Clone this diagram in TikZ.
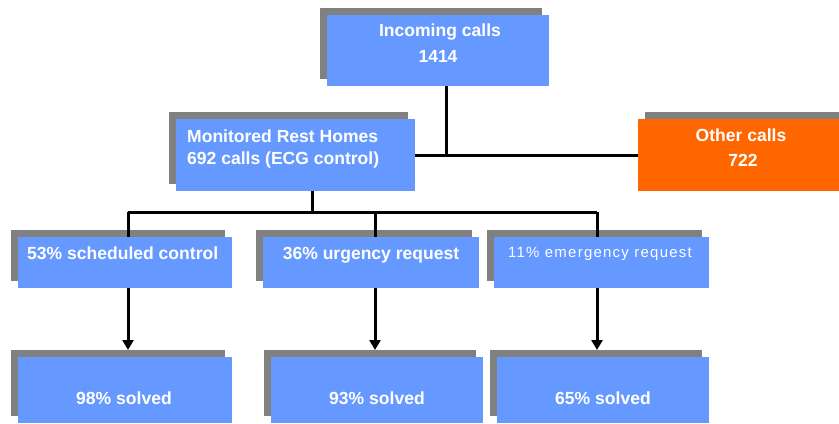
\documentclass[tikz,border=0pt]{standalone}
\usepackage{fontspec}
\setmainfont{Liberation Sans}
\usetikzlibrary{arrows.meta}

\definecolor{boxblue}{HTML}{6699FF}
\definecolor{shadowgray}{HTML}{808080}
\definecolor{callorange}{HTML}{FF6600}

% \panel{name}{x1}{y1}{x2}{y2}{fill}: a filled box with a grey drop shadow up-left
\newcommand\panel[6]{%
  \node[shadowbox, minimum width={(#4-#2)*1bp}, minimum height={(#5-#3)*1bp}]
    (#1S) at ({(#2+#4)/2-7},{(#3+#5)/2-7}) {};
  \node[panelbox, fill=#6, minimum width={(#4-#2)*1bp}, minimum height={(#5-#3)*1bp}]
    (#1) at ({(#2+#4)/2},{(#3+#5)/2}) {};
}

\tikzset{
  panelbox/.style={rectangle, draw=none, inner sep=0pt, outer sep=0pt},
  shadowbox/.style={panelbox, fill=shadowgray},
  boxtext/.style={text=white, inner sep=0pt, font=\bfseries\fontsize{17.6}{20}\selectfont},
  thintext/.style={text=white, inner sep=0pt,
    font=\fontsize{15}{18}\selectfont\addfontfeature{LetterSpace=8.5}},
  wire/.style={draw=black, line width=3bp},
  arrowwire/.style={wire, -{Triangle[length=10bp,width=11bp]}},
}

\begin{document}
\begin{tikzpicture}[x=1bp, y=-1bp]
  \useasboundingbox (0,0) rectangle (839,423);

  % boxes
  \panel{inc}{327}{15}{549}{86}{boxblue}
  \panel{mon}{176}{119}{415}{191}{boxblue}
  \panel{sch}{18}{237}{232}{288}{boxblue}
  \panel{urg}{263}{237}{479}{288}{boxblue}
  \panel{emg}{494}{237}{709}{288}{boxblue}
  \panel{sa}{18}{357}{232}{423}{boxblue}
  \panel{sb}{271}{357}{483}{423}{boxblue}
  \panel{sc}{497}{357}{709}{423}{boxblue}
  % the orange box runs off the right edge; its shadow sits behind it
  \node[shadowbox, minimum width=194bp, minimum height=72bp] (othS) at (742,148) {};
  \node[panelbox, fill=callorange, minimum width=201bp, minimum height=72bp] (oth) at (738.5,155) {};

  % junction points of the tree
  \coordinate (jtop) at (446,155);
  \coordinate (jmon) at (312,212);
  \coordinate (ja) at (128,212);
  \coordinate (jb) at (375,212);
  \coordinate (jc) at (597,212);

  % connectors
  \draw[wire] (inc.south -| jtop) -- (jtop);
  \draw[wire] (mon.east) -- (oth.west);
  \draw[wire] (mon.south -| jmon) -- (jmon);
  \draw[wire] (ja) -- (jc);
  \draw[wire] (ja) -- (sch.north -| ja);
  \draw[wire] (jb) -- (urg.north -| jb);
  \draw[wire] (jc) -- (emg.north -| jc);
  \draw[arrowwire] (sch.south -| ja) -- (saS.north -| ja);
  \draw[arrowwire] (urg.south -| jb) -- (sbS.north -| jb);
  \draw[arrowwire] (emg.south -| jc) -- (scS.north -| jc);

  % texts
  \node[boxtext, anchor=base] (tinc1) at (440,36) {Incoming calls};
  \node[boxtext, anchor=base] (tinc2) at (438,62) {1414};
  \node[boxtext, anchor=base west] (tmon1) at (187,142) {Monitored Rest Homes};
  \node[boxtext, anchor=base west] (tmon2) at (187,164) {692 calls (ECG control)};
  \node[boxtext, anchor=base] (toth1) at (741,141) {Other calls};
  \node[boxtext, anchor=base] (toth2) at (743,166) {722};
  \node[boxtext, anchor=base west] (tsch) at (27,259) {53\% scheduled control};
  \node[boxtext, anchor=base] (turg) at (371,259) {36\% urgency request};
  \node[thintext, anchor=base] (temg) at (600,257) {11\% emergency request};
  \node[boxtext, anchor=base] (tsa) at (124,404) {98\% solved};
  \node[boxtext, anchor=base] (tsb) at (377,404) {93\% solved};
  \node[boxtext, anchor=base] (tsc) at (603,404) {65\% solved};
\end{tikzpicture}
\end{document}
